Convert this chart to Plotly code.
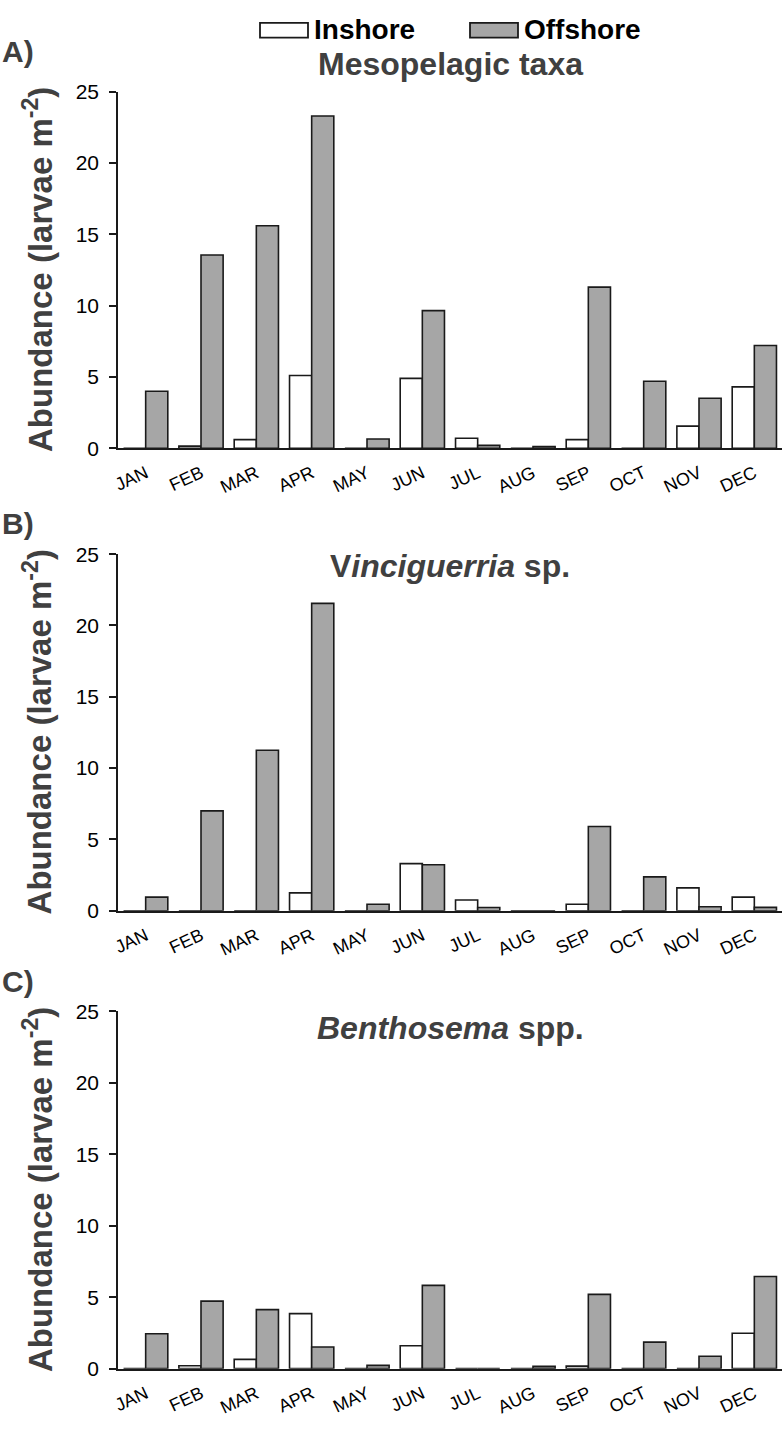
import plotly.graph_objects as go

# ── data (larvae m-2) ────────────────────────────────────────────────────────
months = ["JAN", "FEB", "MAR", "APR", "MAY", "JUN",
          "JUL", "AUG", "SEP", "OCT", "NOV", "DEC"]

meso_inshore  = [0.0, 0.15, 0.6, 5.1, 0.0, 4.9, 0.7, 0.0, 0.6, 0.0, 1.55, 4.3]
meso_offshore = [4.0, 13.55, 15.6, 23.3, 0.65, 9.65, 0.2, 0.12, 11.3, 4.7, 3.5, 7.2]

vinc_inshore  = [0.0, 0.0, 0.0, 1.25, 0.0, 3.3, 0.75, 0.0, 0.45, 0.0, 1.6, 0.95]
vinc_offshore = [0.95, 7.0, 11.25, 21.55, 0.45, 3.22, 0.22, 0.0, 5.9, 2.37, 0.28, 0.23]

bent_inshore  = [0.0, 0.2, 0.65, 3.85, 0.0, 1.6, 0.0, 0.0, 0.18, 0.0, 0.0, 2.48]
bent_offshore = [2.44, 4.73, 4.13, 1.52, 0.23, 5.83, 0.0, 0.16, 5.2, 1.86, 0.87, 6.45]

panels = [
    ("A)", "Mesopelagic taxa", meso_inshore, meso_offshore),
    ("B)", "V<i>inciguerria</i> sp.", vinc_inshore, vinc_offshore),
    ("C)", "<i>Benthosema</i> spp.", bent_inshore, bent_offshore),
]

W, H = 783, 1439
ML, MR = 118, 1
PW = W - ML - MR
FONT = "Liberation Sans, Arial, sans-serif"
GREY = "#a6a6a6"
EDGE = "#1a1a1a"
TXT = "#404040"

# pixel -> paper helpers (margins top/bottom are 0)
def px_x(px):
    return (px - ML) / PW

def px_y(py):
    return 1 - py / H

# plot areas (top, bottom) in pixels
areas = [(81, 443.3), (551, 913.3), (1015.7, 1378.7)]
label_y = [40, 520, 985]
title_y = [53, 563, 1032]

fig = go.Figure()
annotations = []

for i, (lab, title, ins, off) in enumerate(panels):
    n = "" if i == 0 else str(i + 1)
    fig.add_trace(go.Bar(
        x=months, y=ins, name="Inshore",
        marker=dict(color="white", line=dict(color=EDGE, width=1.6)),
        xaxis="x" + n, yaxis="y" + n, showlegend=False,
    ))
    fig.add_trace(go.Bar(
        x=months, y=off, name="Offshore",
        marker=dict(color=GREY, line=dict(color=EDGE, width=1.6)),
        xaxis="x" + n, yaxis="y" + n, showlegend=False,
    ))

    top, bot = areas[i]
    fig.layout["xaxis" + n] = dict(
        domain=[0, 1], anchor="y" + n,
        categoryorder="array", categoryarray=months,
        showline=True, linecolor=EDGE, linewidth=1.5,
        ticks="", tickangle=-25, showgrid=False,
        ticklabelstandoff=6,
        tickfont=dict(family=FONT, size=18, color="#000"),
    )
    fig.layout["yaxis" + n] = dict(
        domain=[px_y(bot), px_y(top)], anchor="x" + n,
        range=[0, 25], dtick=5, showgrid=False, zeroline=False,
        showline=True, linecolor=EDGE, linewidth=1.5,
        ticks="outside", ticklen=7, tickwidth=1.5, tickcolor=EDGE,
        ticklabelstandoff=6,
        tickfont=dict(family=FONT, size=21, color="#000"),
    )

    annotations.append(dict(
        text=lab, xref="paper", yref="paper", x=px_x(0), y=px_y(label_y[i]),
        xanchor="left", yanchor="middle", showarrow=False,
        font=dict(family=FONT, size=30, color=TXT, weight="bold"),
    ))
    annotations.append(dict(
        text=title, xref="paper", yref="paper", x=0.5, y=px_y(title_y[i]),
        xanchor="center", yanchor="middle", showarrow=False,
        font=dict(family=FONT, size=32, color=TXT, weight="bold"),
    ))
    annotations.append(dict(
        text="Abundance (larvae m<sup>-2</sup>)", xref="paper", yref="paper",
        x=px_x(38), y=px_y((top + bot) / 2), textangle=-90,
        xanchor="center", yanchor="middle", showarrow=False,
        font=dict(family=FONT, size=33, color=TXT, weight="bold"),
    ))

# ── legend (drawn by hand to get the wide swatches) ──────────────────────────
shapes = []
for x0, fill, name in [(260, "white", "Inshore"), (470, GREY, "Offshore")]:
    shapes.append(dict(
        type="rect", xref="paper", yref="paper",
        x0=px_x(x0), x1=px_x(x0 + 48), y0=px_y(26), y1=px_y(11),
        fillcolor=fill, line=dict(color=EDGE, width=1.8),
    ))
    annotations.append(dict(
        text=name, xref="paper", yref="paper", x=px_x(x0 + 52), y=px_y(18),
        xanchor="left", yanchor="middle", showarrow=False,
        font=dict(family=FONT, size=28, color="#000", weight="bold"),
    ))

fig.update_layout(
    width=W, height=H,
    margin=dict(l=ML, r=MR, t=0, b=0),
    barmode="group", bargap=0.2, bargroupgap=0,
    plot_bgcolor="white", paper_bgcolor="white",
    annotations=annotations, shapes=shapes,
    font=dict(family=FONT),
)

# body margin off so the figure sits at the page corner
fig.write_html(
    "out.html",
    config={"displayModeBar": False},
    post_script="document.body.style.margin='0';",
)
